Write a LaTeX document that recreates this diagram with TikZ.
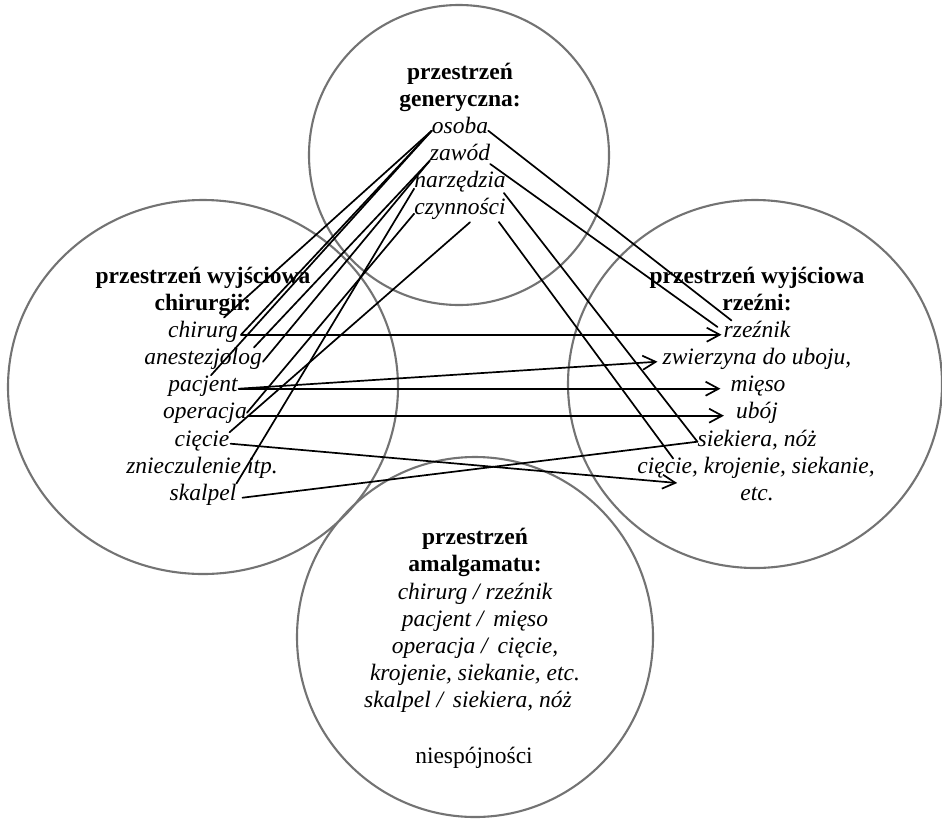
\documentclass[tikz,border=0pt]{standalone}
\usepackage{fontspec}
\setmainfont{Liberation Serif}
\usetikzlibrary{arrows.meta,calc}
\begin{document}
\begin{tikzpicture}[x=1pt,y=-1pt,
  circ/.style={draw=black!55, line width=2.1pt},
  lab/.style={inner sep=0pt, anchor=base, font=\fontsize{23.5}{27}\selectfont\itshape},
  ttl/.style={inner sep=0pt, anchor=base, font=\fontsize{23.5}{27}\selectfont\bfseries},
  reg/.style={inner sep=0pt, anchor=base, font=\fontsize{23.5}{27}\selectfont},
  conn/.style={line width=1.7pt, line cap=round},
  arr/.style={conn, -{Straight Barb[length=13pt,width=14pt,line width=1.7pt]}}]
\useasboundingbox (0,0) rectangle (942,828);
% circles
\draw[circ] (459,155) circle [radius=150];
\draw[circ] (203,387) ellipse [x radius=195, y radius=187];
\draw[circ] (755,384) ellipse [x radius=187, y radius=184];
\draw[circ] (475,637) ellipse [x radius=178, y radius=180];
% generic space
\node[ttl] (gt1) at (460,79) {przestrzeń};
\node[ttl] (gt2) at (460,106) {generyczna:};
\node[lab] (g1) at (460,133) {osoba};
\node[lab] (g2) at (460,160) {zawód};
\node[lab] (g3) at (460,187) {narzędzia};
\node[lab] (g4) at (460,214) {czynności};
% left input space
\node[ttl] (lt1) at (203,283) {przestrzeń wyjściowa};
\node[ttl] (lt2) at (203,310) {chirurgii:};
\node[lab] (l1) at (203,337) {chirurg};
\node[lab] (l2) at (203,364) {anestezjolog};
\node[lab] (l3) at (203,391) {pacjent};
\node[lab] (l4) at (205,418) {operacja};
\node[lab] (l5) at (202,446) {cięcie};
\node[lab] (l6) at (202,473) {znieczulenie itp.};
\node[lab] (l7) at (203,500) {skalpel};
% right input space
\node[ttl] (rt1) at (757,283) {przestrzeń wyjściowa};
\node[ttl] (rt2) at (757,310) {rzeźni:};
\node[lab] (r1) at (757,337) {rzeźnik};
\node[lab] (r2) at (757,364) {zwierzyna do uboju,};
\node[lab] (r3) at (758,391) {mięso};
\node[lab] (r4) at (757,418) {ubój};
\node[lab] (r5) at (757,446) {siekiera, nóż};
\node[lab] (r6) at (756,473) {cięcie, krojenie, siekanie,};
\node[lab] (r7) at (757,500) {etc.};
% blend
\node[ttl] (bt1) at (475,544) {przestrzeń};
\node[ttl] (bt2) at (475,571) {amalgamatu:};
\node[lab] (b1) at (475,599) {chirurg / rzeźnik};
\node[lab] (b2) at (475,626) {pacjent /\, mięso};
\node[lab] (b3) at (475,653) {operacja /\, cięcie,};
\node[lab] (b4) at (475,680) {krojenie, siekanie, etc.};
\node[lab] (b5) at (468,707) {skalpel /\, siekiera, nóż};
\node[reg] (b6) at (474,763) {niespójności};
% generic -> left
\draw[conn] (g1.mid west) -- ($(l1.north east)+(-14,-3)$);
\draw[conn] (g1.mid west) -- ($(l1.mid east)+(3,0)$);
\draw[conn] (g1.mid west) -- ($(l3.north)+(8,0)$);
\draw[conn] ($(g2.mid west)+(0,3)$) -- ($(l2.north east)+(-8,0)$);
\draw[conn] ($(g2.mid west)+(0,3)$) -- ($(l2.mid east)+(1,0)$);
\draw[conn] ($(g3.mid west)+(0,4)$) -- (l7.north east);
\draw[conn] ($(g4.mid west)+(0,2)$) -- ($(l4.mid east)+(0,-3)$);
\draw[conn] ($(g4.south)+(10,3)$) -- ($(l5.north east)+(0,2)$);
% generic -> right
\draw[conn] (g1.mid east) -- ($(r1.north west)+(8,0)$);
\draw[conn] ($(g2.base east)+(0,4)$) -- ($(r1.base west)+(-6,-10)$);
\draw[conn] ($(g3.base east)+(-2,6)$) -- ($(r5.mid west)+(0,-2)$);
\draw[conn] ($(g4.base east)+(-7,8)$) -- ($(r6.north west)+(36,2)$);
% left -> right
\draw[arr] ($(l1.mid east)+(3,0)$) -- ($(r1.mid west)+(-2,0)$);
\draw[arr] ($(l3.mid east)+(1,0)$) -- ($(r2.mid west)+(-5,0)$);
\draw[arr] ($(l3.mid east)+(1,0)$) -- ($(r3.mid west)+(-10,0)$);
\draw[arr] ($(l4.mid east)+(1,0)$) -- ($(r4.mid west)+(-12,0)$);
\draw[arr] ($(l5.mid east)+(1,0)$) -- ($(r6.base west)+(40,10)$);
\draw[conn] ($(l7.mid east)+(6,0)$) -- ($(r5.mid west)+(0,-2)$);
\end{tikzpicture}
\end{document}
